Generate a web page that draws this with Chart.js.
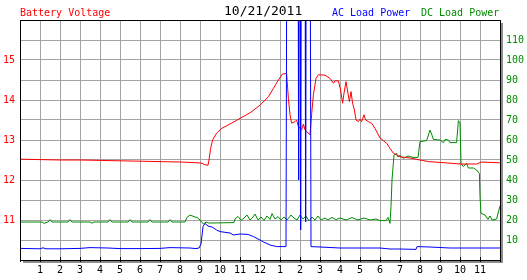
<!DOCTYPE html>
<html>
<head>
<meta charset="utf-8">
<title>Battery Voltage 10/21/2011</title>
<script src="https://cdn.jsdelivr.net/npm/chart.js@4.4.0/dist/chart.umd.min.js"></script>
<style>
  html, body { margin: 0; padding: 0; background: #fff; }
  #wrap { position: relative; width: 527px; height: 280px; overflow: hidden; }
  #chart { position: absolute; left: 0; top: 0; }
  .lbl {
    position: absolute;
    font-family: 'DejaVu Sans Mono', monospace;
    font-size: 10px;
    line-height: 10px;
    white-space: nowrap;
  }
  #t-volt { left: 20px; top: 8px; color: #ff0000; }
  #t-date { left: 224px; top: 4px; font-size: 13px; line-height: 13px; color: #000; }
  #t-ac { left: 332px; top: 8px; color: #0000ff; }
  #t-dc { left: 421px; top: 8px; color: #008c00; }
</style>
</head>
<body>
<div id="wrap">
  <canvas id="chart" width="527" height="280"></canvas>
  <div class="lbl" id="t-volt">Battery Voltage</div>
  <div class="lbl" id="t-date">10/21/2011</div>
  <div class="lbl" id="t-ac">AC Load Power</div>
  <div class="lbl" id="t-dc">DC Load Power</div>
</div>
<script>
// ==================== DATA ====================

// hour of day -> axis label (0 and 24 stay blank)
const HOUR_LABELS = ['', '1', '2', '3', '4', '5', '6', '7', '8', '9', '10', '11', '12',
  '1', '2', '3', '4', '5', '6', '7', '8', '9', '10', '11', ''];
const VOLT_LABELS = [11, 12, 13, 14, 15];
const POWER_LABELS = [10, 20, 30, 40, 50, 60, 70, 80, 90, 100, 110];

// Battery voltage (left axis, V)
const VOLT_HOURS = [0, 1, 2, 3, 4, 5, 6, 7, 8, 8.9, 9.1, 9.25, 9.4, 9.45, 9.53, 9.63, 9.83,
  10.08, 10.5, 11, 11.5, 12, 12.42, 12.67, 12.92, 13.13, 13.33, 13.36, 13.42, 13.5, 13.58,
  13.75, 13.83, 13.92, 14, 14.08, 14.17, 14.25, 14.33, 14.5, 14.58, 14.67, 14.8, 14.92, 15,
  15.25, 15.5, 15.67, 15.75, 15.92, 16.03, 16.13, 16.2, 16.3, 16.37, 16.47, 16.55, 16.63,
  16.72, 16.8, 16.92, 17, 17.08, 17.2, 17.28, 17.42, 17.58, 17.75, 18, 18.33, 18.5, 18.67,
  19, 19.5, 20, 20.42, 21, 22, 22.83, 23.08, 23.5, 24];
const VOLT_VALUES = [12.52, 12.51, 12.5, 12.5, 12.49, 12.48, 12.47, 12.46, 12.45, 12.43, 12.42,
  12.38, 12.37, 12.5, 12.79, 13.0, 13.17, 13.29, 13.4, 13.54, 13.68, 13.87, 14.08, 14.29,
  14.5, 14.65, 14.66, 14.46, 14.04, 13.63, 13.42, 13.46, 13.5, 13.33, 13.3, 13.25, 13.4,
  13.25, 13.21, 13.13, 13.63, 14.13, 14.54, 14.63, 14.63, 14.62, 14.54, 14.42, 14.48, 14.48,
  14.25, 13.92, 14.17, 14.46, 14.25, 13.96, 14.21, 13.92, 13.75, 13.5, 13.46, 13.52, 13.46,
  13.63, 13.5, 13.46, 13.42, 13.29, 13.05, 12.92, 12.79, 12.67, 12.58, 12.55, 12.5, 12.46,
  12.44, 12.4, 12.4, 12.45, 12.44, 12.43];

// AC load power (right axis, W) - spikes run off the top of the chart
const AC_HOURS = [0, 1, 1.15, 1.3, 2, 3, 3.5, 4.4, 5, 6, 7, 7.5, 8.5, 8.8, 8.95, 9.05, 9.15,
  9.25, 9.4, 9.6, 9.83, 10, 10.5, 10.67, 11, 11.4, 11.67, 11.9, 12, 12.17, 12.4, 12.5, 12.83,
  13.3, 13.35, 13.9, 13.93, 13.96, 14, 14.03, 14.07, 14.25, 14.28, 14.31, 14.5, 14.55, 15, 16,
  17, 18, 18.5, 19, 19.8, 19.85, 20.5, 21.5, 24];
const AC_VALUES = [5.8, 5.6, 6.1, 5.6, 5.6, 5.8, 6.2, 6.0, 5.7, 5.7, 5.8, 6.2, 6.0, 5.7, 6.0,
  8, 16.7, 18.3, 17, 16.5, 15, 14.2, 13.5, 12.5, 13, 12.8, 11.7, 10.5, 10, 9, 8, 7.5, 6.7,
  6.7, 200, 200, 40, 200, 200, 15, 200, 200, 19, 200, 200, 6.7, 6.5, 6, 6, 6, 5.5, 5.5,
  5.3, 6.7, 6.5, 6, 6];

// DC load power (right axis, W)
const DC_HOURS = [0, 1.1, 1.2, 1.4, 1.5, 1.6, 2.4, 2.5, 2.6, 3.5, 3.6, 3.7, 4.4, 4.5, 4.6,
  5.4, 5.5, 5.6, 6.4, 6.5, 6.6, 7.4, 7.5, 7.6, 8.25, 8.35, 8.5, 8.75, 8.85, 9, 9.17, 9.3,
  9.42, 9.6, 10.7, 10.75, 10.9, 11.05, 11.2, 11.35, 11.5, 11.65, 11.75, 11.9, 12.05, 12.2,
  12.35, 12.5, 12.6, 12.75, 12.9, 13.05, 13.2, 13.35, 13.55, 13.7, 13.85, 14, 14.15, 14.3,
  14.45, 14.6, 14.75, 14.9, 15.05, 15.25, 15.4, 15.6, 15.8, 16, 16.3, 16.6, 16.9, 17.2,
  17.5, 17.8, 18, 18.3, 18.4, 18.5, 18.55, 18.6, 18.7, 18.83, 18.9, 19, 19.17, 19.4, 19.65,
  19.9, 20, 20.33, 20.5, 20.58, 20.67, 21, 21.17, 21.25, 21.42, 21.5, 21.83, 21.92, 22,
  22.05, 22.17, 22.33, 22.42, 22.67, 22.83, 22.97, 23, 23.05, 23.25, 23.4, 23.5, 23.6,
  23.75, 23.83, 23.92, 24];
const DC_VALUES = [19, 19, 18.3, 19, 20.2, 19, 19, 20.2, 19, 19, 18.4, 19, 19, 20.2, 19,
  19, 20.2, 19, 19, 20.2, 19, 19, 20.2, 19, 19, 21.3, 22.5, 21.5, 21.3, 20, 18, 19, 18.5,
  18.5, 18.7, 20.5, 21.8, 19.8, 21, 22.5, 20, 21.5, 23, 20, 21.5, 19.8, 22, 20.3, 23.2,
  20.5, 21.7, 20, 21.5, 20, 22.5, 21, 20, 22.5, 20.5, 22, 19.5, 21.5, 20, 22, 20, 21, 20,
  21.3, 20.2, 21, 20, 21.2, 20, 21, 20, 20.5, 19.7, 19.7, 21.3, 18.3, 26.7, 40, 52.5, 53.3,
  51.5, 52.3, 50.8, 52, 51.3, 51.3, 59.2, 59.7, 65, 63, 60.3, 60, 58.7, 60.3, 60, 58.7,
  58.7, 69.7, 68.5, 48.3, 46.7, 48.3, 46, 46, 45, 43.3, 31.7, 23.3, 22.5, 20.3, 22, 20,
  20.3, 20.5, 24, 27];

// ==================== HELPERS ====================

const FONT = { family: "'DejaVu Sans Mono', monospace", size: 10 };
const toPoints = (xs, ys) => xs.map((x, i) => ({ x, y: ys[i] }));

// frame with drop shadow, plus short inward ticks on the time axis
const framePlugin = {
  id: 'frame',
  beforeDraw(chart) {
    const { ctx, chartArea: a } = chart;
    ctx.save();
    ctx.fillStyle = '#8c8c8c';
    ctx.fillRect(a.left + 3, a.top + 3, a.right - a.left, a.bottom - a.top);
    ctx.fillStyle = '#fff';
    ctx.fillRect(a.left, a.top, a.right - a.left + 1, a.bottom - a.top + 1);
    ctx.restore();
  },
  afterDatasetsDraw(chart) {
    const { ctx, chartArea: a, scales } = chart;
    ctx.save();
    ctx.strokeStyle = '#000';
    ctx.lineWidth = 1;
    ctx.strokeRect(a.left + 0.5, a.top + 0.5, a.right - a.left, a.bottom - a.top);
    ctx.beginPath();
    scales.x.ticks.forEach(t => {
      const px = Math.round(scales.x.getPixelForValue(t.value)) + 0.5;
      ctx.moveTo(px, a.bottom - 3);
      ctx.lineTo(px, a.bottom + 2);
    });
    ctx.stroke();
    ctx.restore();
  }
};

// ==================== CHART ====================

const line = (label, color, axis, xs, ys) => ({
  label,
  data: toPoints(xs, ys),
  yAxisID: axis,
  borderColor: color,
  borderWidth: 1,
  pointRadius: 0,
  tension: 0,
  fill: false
});

new Chart(document.getElementById('chart'), {
  type: 'line',
  data: {
    // first dataset is painted last (on top)
    datasets: [
      line('AC Load Power', '#0000ff', 'yP', AC_HOURS, AC_VALUES),
      line('Battery Voltage', '#ff0000', 'yV', VOLT_HOURS, VOLT_VALUES),
      line('DC Load Power', '#008c00', 'yP', DC_HOURS, DC_VALUES)
    ]
  },
  options: {
    responsive: false,
    animation: false,
    devicePixelRatio: 1,
    layout: { padding: { top: 20, left: 0, right: 0, bottom: 0 } },
    plugins: { legend: { display: false }, tooltip: { enabled: false } },
    scales: {
      x: {
        type: 'linear',
        min: 0,
        max: 24,
        afterFit: s => { s.height = 20; },
        grid: { color: '#a4a4a4', drawTicks: false },
        border: { display: false },
        ticks: {
          stepSize: 1,
          autoSkip: false,
          maxRotation: 0,
          padding: 4,
          color: '#000',
          font: FONT,
          callback: v => HOUR_LABELS[v] ?? ''
        }
      },
      yV: {
        position: 'left',
        min: 10,
        max: 16,
        afterFit: s => { s.width = 20; },
        grid: { color: '#a4a4a4', drawTicks: false },
        border: { display: false },
        ticks: {
          stepSize: 0.5,
          autoSkip: false,
          padding: 5,
          color: '#ff0000',
          font: FONT,
          callback: v => VOLT_LABELS.includes(v) ? String(v) : ''
        }
      },
      yP: {
        position: 'right',
        min: 0,
        max: 120,
        afterFit: s => { s.width = 27; },
        grid: { display: false, drawTicks: false },
        border: { display: false },
        ticks: {
          stepSize: 10,
          autoSkip: false,
          padding: 6,
          color: '#008c00',
          font: FONT,
          callback: v => POWER_LABELS.includes(v) ? String(v) : ''
        }
      }
    }
  },
  plugins: [framePlugin]
});
</script>
</body>
</html>
